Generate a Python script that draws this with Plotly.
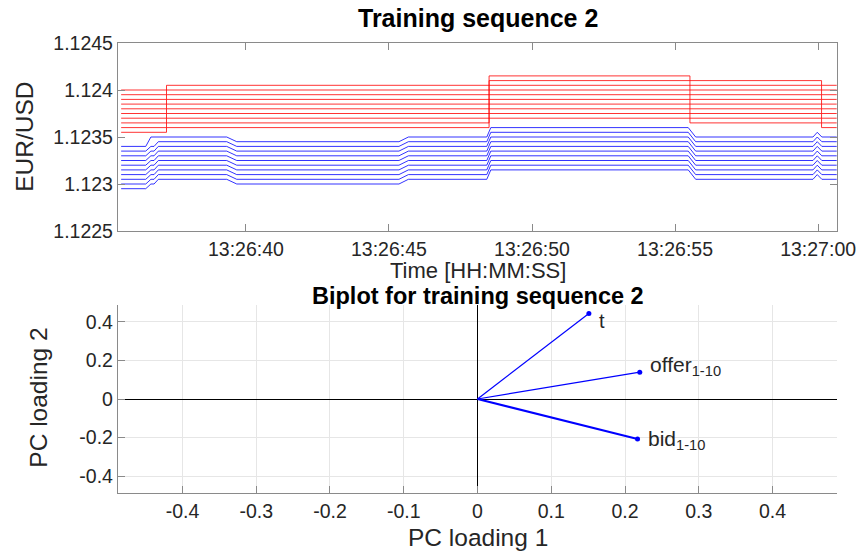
import plotly.graph_objects as go
import pandas as pd

# ---------------- data: top panel (order book, 10 levels) ----------------
base_time = pd.Timestamp("2017-06-01 13:26:00")

# offer snapshots (seconds after 13:26:00), step changes
offer_secs = [35.64, 37.225, 48.50, 55.52, 60.12, 60.65]
offer_book = [  # rows: snapshot, columns: offer level 1..10
    [1.12355, 1.12360, 1.12365, 1.12370, 1.12375, 1.12380, 1.12385, 1.12390, 1.12395, 1.12400],
    [1.12360, 1.12365, 1.12370, 1.12375, 1.12380, 1.12385, 1.12390, 1.12395, 1.12400, 1.12405],
    [1.12370, 1.12375, 1.12380, 1.12385, 1.12390, 1.12395, 1.12400, 1.12405, 1.12410, 1.12415],
    [1.12365, 1.12370, 1.12375, 1.12380, 1.12385, 1.12390, 1.12395, 1.12400, 1.12405, 1.12410],
    [1.12360, 1.12365, 1.12370, 1.12375, 1.12380, 1.12385, 1.12390, 1.12395, 1.12400, 1.12405],
    [1.12360, 1.12365, 1.12370, 1.12375, 1.12380, 1.12385, 1.12390, 1.12395, 1.12400, 1.12405],
]

# bid samples (seconds after 13:26:00), linearly joined
bid_secs = [35.64, 36.50, 36.68, 36.79, 36.94, 39.33, 39.68, 45.35, 45.68,
            48.42, 48.56, 55.46, 55.72, 59.82, 59.97, 60.13, 60.65]
bid_book = [  # rows: sample, columns: bid level 1..10
    [1.12340, 1.12335, 1.12330, 1.12325, 1.12320, 1.12315, 1.12310, 1.12305, 1.12300, 1.12295],
    [1.12340, 1.12335, 1.12330, 1.12325, 1.12320, 1.12315, 1.12310, 1.12305, 1.12300, 1.12295],
    [1.12350, 1.12340, 1.12335, 1.12330, 1.12325, 1.12320, 1.12315, 1.12310, 1.12305, 1.12300],
    [1.12350, 1.12340, 1.12335, 1.12330, 1.12325, 1.12320, 1.12315, 1.12310, 1.12305, 1.12300],
    [1.12350, 1.12345, 1.12340, 1.12335, 1.12330, 1.12325, 1.12320, 1.12315, 1.12310, 1.12305],
    [1.12350, 1.12345, 1.12340, 1.12335, 1.12330, 1.12325, 1.12320, 1.12315, 1.12310, 1.12305],
    [1.12345, 1.12340, 1.12335, 1.12330, 1.12325, 1.12320, 1.12315, 1.12310, 1.12305, 1.12300],
    [1.12345, 1.12340, 1.12335, 1.12330, 1.12325, 1.12320, 1.12315, 1.12310, 1.12305, 1.12300],
    [1.12350, 1.12345, 1.12340, 1.12335, 1.12330, 1.12325, 1.12320, 1.12315, 1.12310, 1.12305],
    [1.12350, 1.12345, 1.12340, 1.12335, 1.12330, 1.12325, 1.12320, 1.12315, 1.12310, 1.12305],
    [1.12360, 1.12355, 1.12350, 1.12345, 1.12340, 1.12335, 1.12330, 1.12325, 1.12320, 1.12315],
    [1.12360, 1.12355, 1.12350, 1.12345, 1.12340, 1.12335, 1.12330, 1.12325, 1.12320, 1.12315],
    [1.12350, 1.12345, 1.12340, 1.12335, 1.12330, 1.12325, 1.12320, 1.12315, 1.12310, 1.12305],
    [1.12350, 1.12345, 1.12340, 1.12335, 1.12330, 1.12325, 1.12320, 1.12315, 1.12310, 1.12305],
    [1.12355, 1.12350, 1.12345, 1.12340, 1.12335, 1.12330, 1.12325, 1.12320, 1.12315, 1.12310],
    [1.12350, 1.12345, 1.12340, 1.12335, 1.12330, 1.12325, 1.12320, 1.12315, 1.12310, 1.12305],
    [1.12350, 1.12345, 1.12340, 1.12335, 1.12330, 1.12325, 1.12320, 1.12315, 1.12310, 1.12305],
]

time_tick_secs = [40, 45, 50, 55, 60]
time_tick_labels = ["13:26:40", "13:26:45", "13:26:50", "13:26:55", "13:27:00"]
time_range_secs = [35.53, 60.66]
price_ticks = [1.1225, 1.123, 1.1235, 1.124, 1.1245]
price_tick_labels = ["1.1225", "1.123", "1.1235", "1.124", "1.1245"]
price_range = [1.1225, 1.1245]

# ---------------- data: bottom panel (biplot) ----------------
pc_names = ["t", "offer<sub>1-10</sub>", "bid<sub>1-10</sub>"]
pc_loading_1 = [0.151, 0.220, 0.217]
pc_loading_2 = [0.443, 0.139, -0.207]
pc_ticks_x = [-0.4, -0.3, -0.2, -0.1, 0, 0.1, 0.2, 0.3, 0.4]
pc_ticks_x_labels = ["-0.4", "-0.3", "-0.2", "-0.1", "0", "0.1", "0.2", "0.3", "0.4"]
pc_ticks_y = [-0.4, -0.2, 0, 0.2, 0.4]
pc_ticks_y_labels = ["-0.4", "-0.2", "0", "0.2", "0.4"]
pc_range = [-0.4874, 0.4874]

# ---------------- figure ----------------
W, H = 868, 555
ML, MR, MT, MB = 118, 25, 43, 62
PW, PH = W - ML - MR, H - MT - MB


def px2x(px):
    return (px - ML) / PW


def py2y(py):
    return 1 - (py - MT) / PH


def to_time(secs):
    return [base_time + pd.Timedelta(seconds=s) for s in secs]


FONT = "Liberation Sans, Arial, Helvetica, sans-serif"
TXT = "#262626"
AXC = "#8a8a8a"

fig = go.Figure()

offer_t = to_time(offer_secs)
for lvl in range(len(offer_book[0])):
    fig.add_trace(go.Scatter(
        x=offer_t, y=[row[lvl] for row in offer_book], mode="lines",
        line=dict(color="rgba(255,0,0,0.8)", width=1, shape="hv"),
        xaxis="x", yaxis="y", hoverinfo="skip"))

bid_t = to_time(bid_secs)
for lvl in range(len(bid_book[0])):
    fig.add_trace(go.Scatter(
        x=bid_t, y=[row[lvl] for row in bid_book], mode="lines",
        line=dict(color="rgba(0,0,255,0.8)", width=1),
        xaxis="x", yaxis="y", hoverinfo="skip"))

line_widths = [1.2, 1.2, 2.0]
for i in range(len(pc_names)):
    fig.add_trace(go.Scatter(
        x=[0, pc_loading_1[i]], y=[0, pc_loading_2[i]], mode="lines",
        line=dict(color="#0000ff", width=line_widths[i]),
        xaxis="x2", yaxis="y2", hoverinfo="skip"))
fig.add_trace(go.Scatter(
    x=pc_loading_1, y=pc_loading_2, mode="markers",
    marker=dict(color="#0000ff", size=5),
    xaxis="x2", yaxis="y2", hoverinfo="skip"))

top_dom = [py2y(231), 1]
bot_dom = [0, py2y(305)]

tickfont = dict(family=FONT, size=19.5, color=TXT)

fig.update_layout(
    width=W, height=H,
    margin=dict(l=ML, r=MR, t=MT, b=MB, pad=0),
    paper_bgcolor="white", plot_bgcolor="white",
    showlegend=False,
    font=dict(family=FONT, color=TXT),
    xaxis=dict(
        domain=[0, 1], anchor="y", type="date",
        range=to_time(time_range_secs),
        tickvals=to_time(time_tick_secs), ticktext=time_tick_labels,
        ticks="inside", ticklen=7, tickcolor=AXC, tickwidth=1,
        showline=True, linecolor=AXC, linewidth=1.3, mirror="ticks",
        showgrid=False, zeroline=False, tickfont=tickfont),
    yaxis=dict(
        domain=top_dom, anchor="x", range=price_range,
        tickvals=price_ticks, ticktext=price_tick_labels,
        ticks="inside", ticklen=7, tickcolor=AXC, tickwidth=1,
        showline=True, linecolor=AXC, linewidth=1.3, mirror="ticks",
        showgrid=False, zeroline=False, tickfont=tickfont),
    xaxis2=dict(
        domain=[0, 1], anchor="y2", range=pc_range,
        tickvals=pc_ticks_x, ticktext=pc_ticks_x_labels,
        ticks="inside", ticklen=7, tickcolor=AXC, tickwidth=1,
        showline=True, linecolor=AXC, linewidth=1.3, mirror=False,
        showgrid=True, gridcolor="#e6e6e6", gridwidth=1,
        zeroline=True, zerolinecolor="#000000", zerolinewidth=1.2,
        tickfont=tickfont),
    yaxis2=dict(
        domain=bot_dom, anchor="x2", range=pc_range,
        tickvals=pc_ticks_y, ticktext=pc_ticks_y_labels,
        ticks="inside", ticklen=7, tickcolor=AXC, tickwidth=1,
        showline=True, linecolor=AXC, linewidth=1.3, mirror=False,
        showgrid=True, gridcolor="#e6e6e6", gridwidth=1,
        zeroline=True, zerolinecolor="#000000", zerolinewidth=1.2,
        tickfont=tickfont),
)

ann = []


def add_text(text, px, py, size, bold=False, angle=0, xanchor="center"):
    ann.append(dict(
        text=("<b>%s</b>" % text) if bold else text,
        x=px2x(px), y=py2y(py), xref="paper", yref="paper",
        xanchor=xanchor, yanchor="middle", showarrow=False, textangle=angle,
        font=dict(family=FONT, size=size, color="#000000" if bold else TXT)))


add_text("Training sequence 2", 480.5, 18, 25, bold=True)
add_text("Time [HH:MM:SS]", 480.5, 270.5, 22)
add_text("EUR/USD", 23, 137, 24.5, angle=-90)
add_text("Biplot for training sequence 2", 480.5, 295.5, 23.5, bold=True)
add_text("PC loading 1", 480.5, 537, 24.5)
add_text("PC loading 2", 37, 398, 24.5, angle=-90)

label_yshift = [-7, 6, -1]
label_size = [20, 21, 21]
for i, name in enumerate(pc_names):
    ann.append(dict(
        text=name, x=pc_loading_1[i], y=pc_loading_2[i], xref="x2", yref="y2",
        xanchor="left", yanchor="middle", showarrow=False, xshift=8,
        yshift=label_yshift[i],
        font=dict(family=FONT, size=label_size[i], color=TXT)))

fig.update_layout(annotations=ann)

fig.write_html("out.html")
